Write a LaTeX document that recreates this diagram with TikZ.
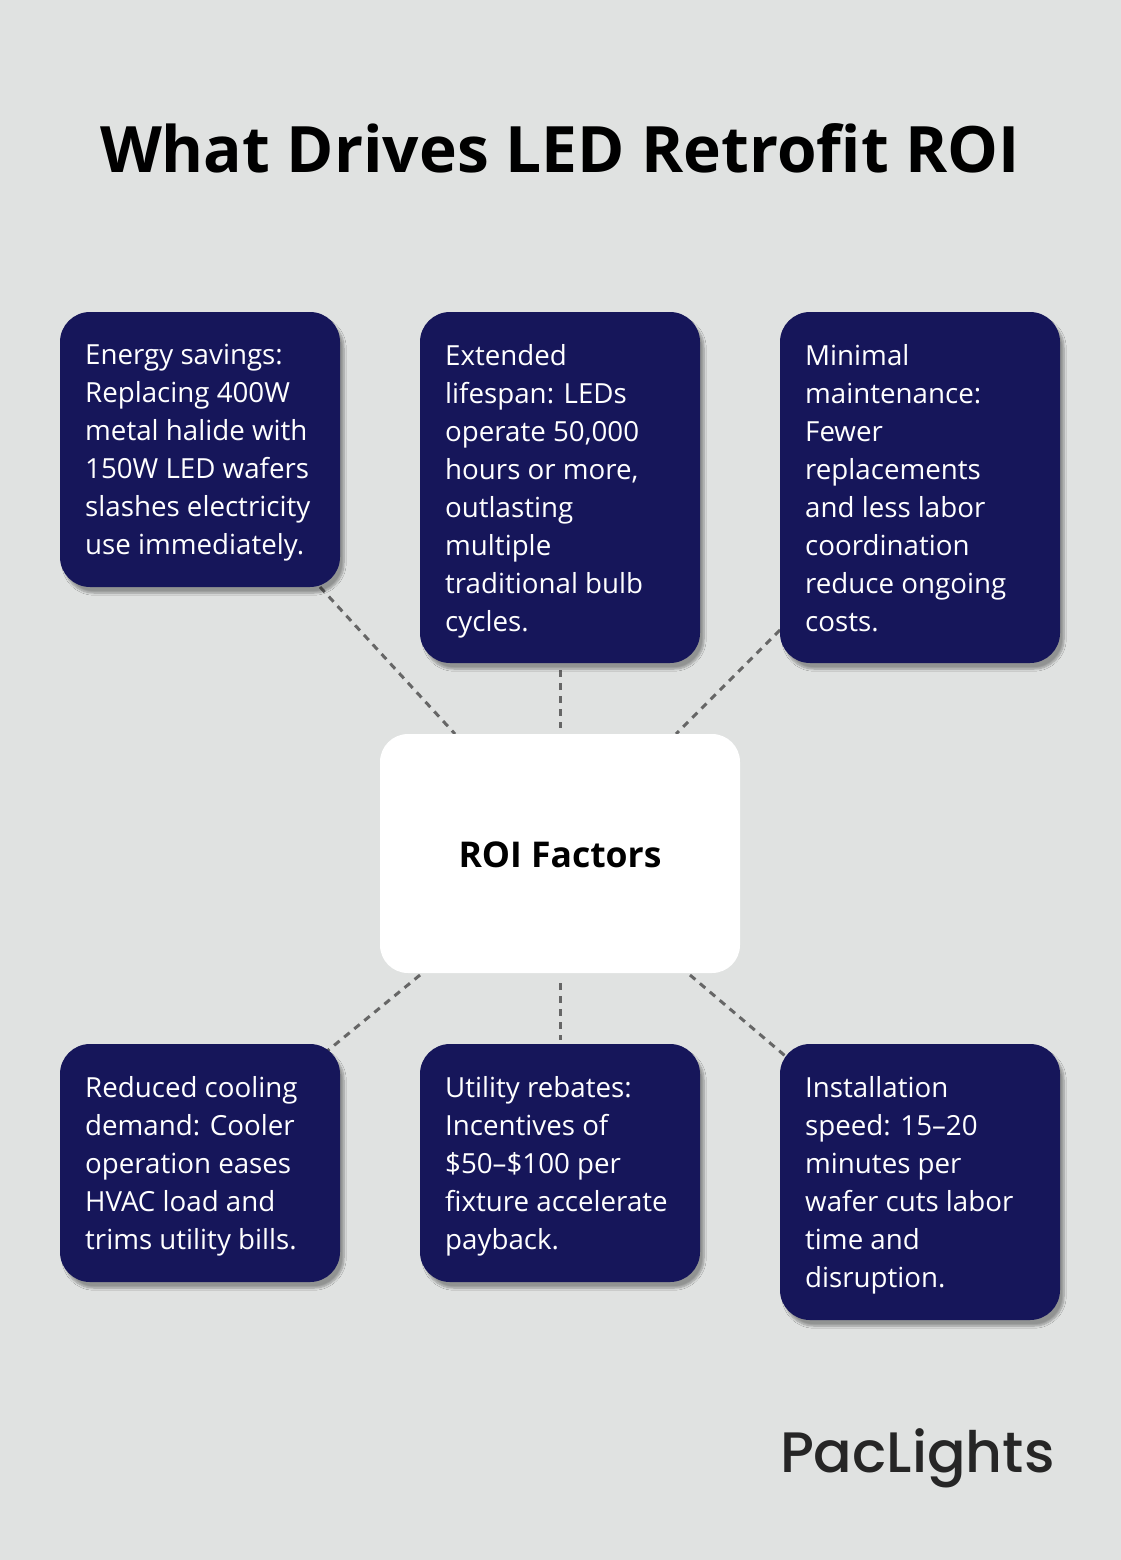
\documentclass[tikz,border=0pt]{standalone}
\usepackage{fontspec}
\setmainfont{Open Sans}
\usetikzlibrary{shadows.blur}
\definecolor{bg}{HTML}{E0E2E1}
\definecolor{navy}{HTML}{16165A}
\begin{document}
\begin{tikzpicture}[x=1pt,y=-1pt,
 card/.style={fill=navy,rounded corners=30pt,blur shadow={shadow xshift=4pt,shadow yshift=-6pt,shadow blur steps=8,shadow opacity=35}},
 txt/.style={anchor=north west,text=white,align=left,inner sep=0pt,font=\fontsize{27.7}{38}\selectfont},
 conn/.style={draw=black!60,line width=3pt,dash pattern=on 7pt off 6pt}]
\useasboundingbox (0,0) rectangle (1120,1560);
\fill[bg] (-2,-2) rectangle (1122,1562);
\node (title) at (560,148) {\fontsize{64}{70}\selectfont\bfseries What Drives LED Retrofit ROI};
\coordinate (a1) at (320,587); \coordinate (a2) at (455,734);
\coordinate (b1) at (560,670); \coordinate (b2) at (560,728);
\coordinate (c1) at (780,630); \coordinate (c2) at (676,734);
\coordinate (d1) at (420,975); \coordinate (d2) at (326,1052);
\coordinate (e1) at (560,983); \coordinate (e2) at (560,1040);
\coordinate (f1) at (690,975); \coordinate (f2) at (790,1060);
\draw[conn] (a1)--(a2); \draw[conn] (b1)--(b2); \draw[conn] (c1)--(c2);
\draw[conn] (d1)--(d2); \draw[conn] (e1)--(e2); \draw[conn] (f1)--(f2);
\path[card] (60,312) rectangle (340,587);
\path[card] (420,312) rectangle (700,663);
\path[card] (780,312) rectangle (1060,663);
\path[card] (60,1044) rectangle (340,1282);
\path[card] (420,1044) rectangle (700,1282);
\path[card] (780,1044) rectangle (1060,1320);
\path[fill=white,rounded corners=28pt] (380,734) rectangle (740,973);
\node (roi) at (560,855) {\fontsize{35.5}{40}\selectfont\bfseries ROI Factors};
\node[txt] (t1) at (85,344) {Energy savings:\\Replacing 400W\\metal halide with\\150W LED wafers\\slashes electricity\\use immediately.};
\node[txt] (t2) at (445,344) {Extended\\lifespan: LEDs\\operate 50,000\\hours or more,\\outlasting\\multiple\\traditional bulb\\cycles.};
\node[txt] (t3) at (805,344) {Minimal\\maintenance:\\Fewer\\replacements\\and less labor\\coordination\\reduce ongoing\\costs.};
\node[txt] (t4) at (85,1076) {Reduced cooling\\demand: Cooler\\operation eases\\HVAC load and\\trims utility bills.};
\node[txt] (t5) at (445,1076) {Utility rebates:\\Incentives of\\\$50–\$100 per\\fixture accelerate\\payback.};
\node[txt] (t6) at (805,1076) {Installation\\speed: 15–20\\minutes per\\wafer cuts labor\\time and\\disruption.};
\node[anchor=east,text=black!85,font=\fontsize{57}{64}\selectfont\fontspec{Poppins Medium}] (logo) at (1058,1458) {PacLights};
\end{tikzpicture}
\end{document}
